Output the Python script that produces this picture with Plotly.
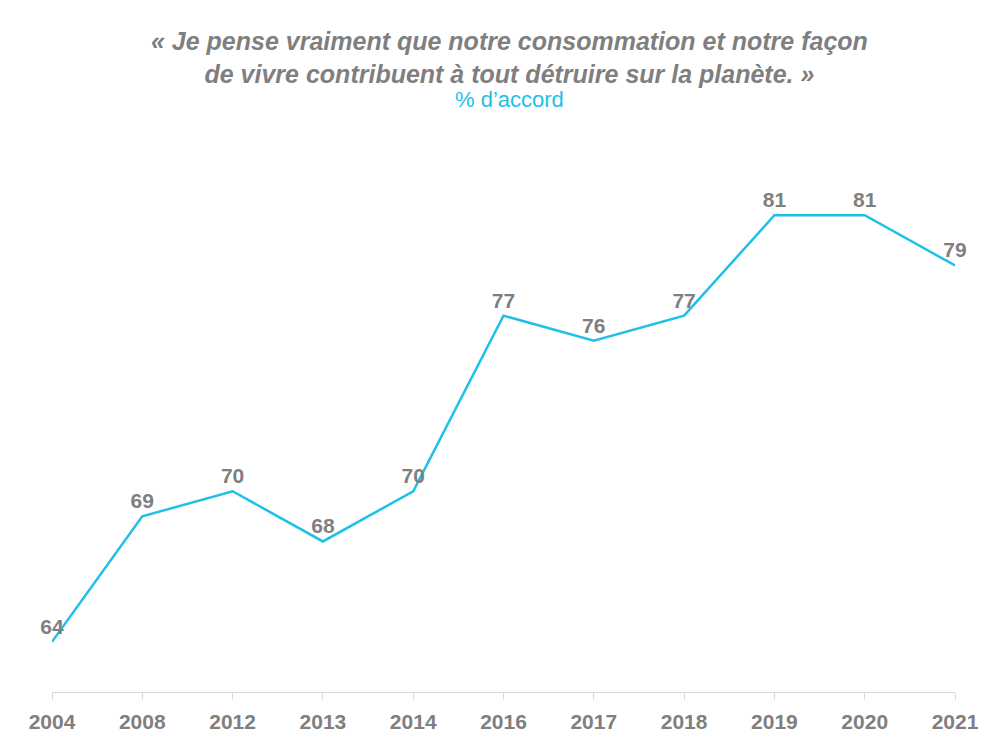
import plotly.graph_objects as go

years = ["2004", "2008", "2012", "2013", "2014", "2016", "2017", "2018", "2019", "2020", "2021"]
values = [64, 69, 70, 68, 70, 77, 76, 77, 81, 81, 79]

title_line1 = "« Je pense vraiment que notre consommation et notre façon"
title_line2 = "de vivre contribuent à tout détruire sur la planète. »"
subtitle = "% d’accord"

GREY = "#7f7f7f"
CYAN = "#1fc0e8"
NARROW = "Liberation Sans Narrow, Arial Narrow, Liberation Sans, Arial, sans-serif"

fig = go.Figure(go.Scatter(
    x=years, y=values, mode="lines+markers+text",
    line=dict(color=CYAN, width=2.5),
    marker=dict(size=3, color="rgba(0,0,0,0)"),
    text=[str(v) for v in values],
    textposition="top center",
    textfont=dict(family=NARROW, size=21, color=GREY, weight="bold"),
    cliponaxis=False,
    hoverinfo="skip",
))

TOP, BOT = 132, 66
fig.update_layout(
    width=1000, height=750,
    paper_bgcolor="white", plot_bgcolor="white",
    margin=dict(l=44, r=53, t=TOP, b=BOT),
    showlegend=False,
    xaxis=dict(
        type="category", range=[0, 10], showgrid=False, zeroline=False,
        showline=True, linecolor="#d9d9d9", linewidth=1,
        ticks="outside", tickcolor="#d9d9d9", ticklen=7,
        ticklabelstandoff=4,
        tickfont=dict(family=NARROW, size=21, color=GREY, weight="bold"),
    ),
    yaxis=dict(range=[62, 84], visible=False, showgrid=False, zeroline=False),
)

ph = 750 - TOP - BOT
def ypaper(py):
    return (750 - BOT - py) / ph

fig.add_annotation(
    text="<b><i>" + title_line1 + "<br>" + title_line2 + "</i></b>",
    x=0.5065, xanchor="center", y=ypaper(49), yanchor="middle",
    xref="paper", yref="paper", showarrow=False,
    font=dict(family="Liberation Sans, Arial, sans-serif", size=25, color=GREY))
fig.add_annotation(
    text=subtitle,
    x=0.5065, xanchor="center", y=ypaper(92), yanchor="middle",
    xref="paper", yref="paper", showarrow=False,
    font=dict(family="Liberation Sans, Arial, sans-serif", size=22, color=CYAN))

fig.write_html("out.html")
